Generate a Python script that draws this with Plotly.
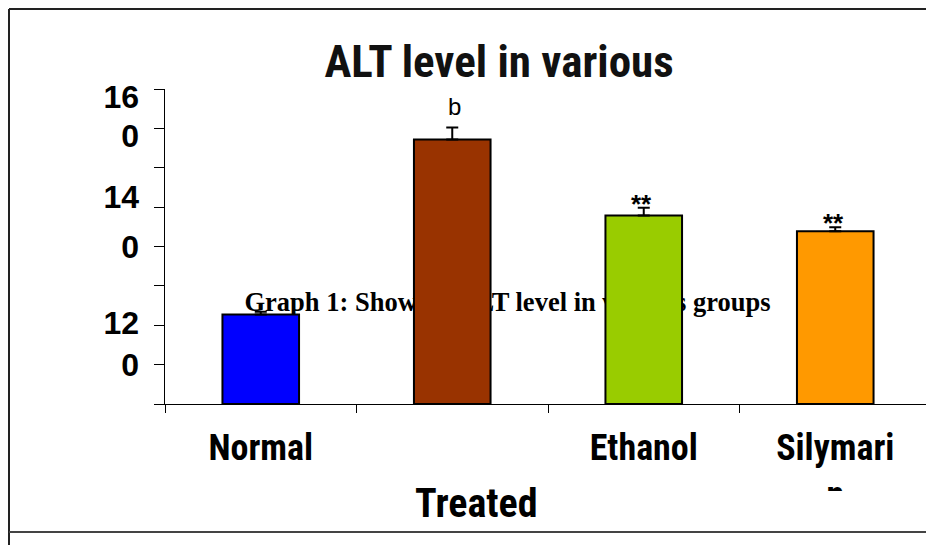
import plotly.graph_objects as go

# ---- data ----
groups = ["Normal", "Ethanol Treated", "Ethanol + Extract", "Silymarin"]
group_ticks = ["Normal", "", "Ethanol", "Silymari<br>n"]
alt_mean = [45.5, 134.4, 95.8, 87.8]
alt_err = [1.3, 6.0, 3.9, 2.0]
bar_colors = ["#0000FF", "#993300", "#99CC00", "#FF9900"]
sig_marks = ["", "b", "**", "**"]
y_ticks = [0, 20, 40, 60, 80, 100, 120, 140, 160]
y_label_vals = [156, 136, 105, 80, 41, 20]
y_label_text = ["16", "0", "14", "0", "12", "0"]
caption = "Graph 1: Showing ALT level in various groups"
title_text = "ALT level in various"
x_title = "Treated"

OFF = 8                      # page margin of the browser
W, H = 926, 537
L, R, T, B = 157, 3, 81, 141
PW, PH = W - L - R, H - T - B
CAT_PX = 191.5               # width of one category in the reference
X_MAX = -0.5 + PW / CAT_PX


def px(xpix):                # screen x -> paper x
    return (xpix - OFF - L) / PW


def py(ypix):                # screen y -> paper y
    return (H - B - (ypix - OFF)) / PH


COND = "Roboto Condensed, Roboto, sans-serif"
SANS = "Liberation Sans, Arial, sans-serif"
SERIF = "Liberation Serif, Times New Roman, serif"

fig = go.Figure()
fig.add_trace(go.Bar(
    x=groups, y=alt_mean, width=0.4,
    marker=dict(color=bar_colors, line=dict(color="black", width=2)),
    error_y=dict(type="data", symmetric=False, array=alt_err,
                 arrayminus=[0] * len(alt_err), color="black",
                 thickness=2, width=6),
    showlegend=False, hoverinfo="skip",
))
# invisible helper trace carrying the secondary (label) axis
fig.add_trace(go.Scatter(x=groups, y=alt_mean, yaxis="y2", mode="markers",
                         marker=dict(opacity=0), showlegend=False,
                         hoverinfo="skip"))

annotations = []
for g, m, e, s in zip(groups, alt_mean, alt_err, sig_marks):
    if not s:
        continue
    if s == "b":
        annotations.append(dict(x=g, y=m + e, xref="x", yref="y", text=s,
                                showarrow=False, yanchor="middle", yshift=21,
                                xshift=2,
                                font=dict(family=SANS, size=24, color="black")))
    else:
        annotations.append(dict(x=g, y=m + e, xref="x", yref="y", text=s,
                                showarrow=False, yanchor="middle", yshift=4,
                                xshift=-2,
                                font=dict(family=SANS, size=26, color="black",
                                          weight="bold")))

annotations.append(dict(x=px(476), y=py(503.5), xref="paper", yref="paper",
                        text=x_title, showarrow=False, xanchor="center",
                        yanchor="middle",
                        font=dict(family=COND, size=40, color="black",
                                  weight="bold")))

shapes = [
    # page frame lines
    dict(type="line", xref="paper", yref="paper", x0=px(9), x1=px(940),
         y0=py(9), y1=py(9), line=dict(color="#222", width=2)),
    dict(type="line", xref="paper", yref="paper", x0=px(9), x1=px(9),
         y0=py(9), y1=py(550), line=dict(color="#222", width=2)),
    dict(type="line", xref="paper", yref="paper", x0=px(9), x1=px(940),
         y0=py(532), y1=py(532), line=dict(color="#444", width=2)),
    # caption lying behind the bars
    dict(type="rect", xref="paper", yref="paper", x0=px(200), x1=px(815),
         y0=py(318), y1=py(280), layer="below", line=dict(width=0),
         fillcolor="rgba(0,0,0,0)",
         label=dict(text=caption, textposition="middle center",
                    font=dict(family=SERIF, size=26.5, color="black",
                              weight="bold"))),
    # cell edge cutting the wrapped label
    dict(type="rect", xref="paper", yref="paper", x0=px(770), x1=px(910),
         y0=py(491), y1=py(528), layer="above", line=dict(width=0),
         fillcolor="white"),
]

fig.update_layout(
    width=W, height=H, autosize=False,
    margin=dict(l=L, r=R, t=T, b=B, pad=0),
    paper_bgcolor="white", plot_bgcolor="white",
    title=dict(text=title_text, x=(499 - OFF) / W, y=1 - (61.5 - OFF) / H,
               xanchor="center", yanchor="middle", xref="container",
               yref="container",
               font=dict(family=COND, size=45, color="#111",
                         weight="bold")),
    xaxis=dict(type="category", range=[-0.5, X_MAX], tickson="boundaries",
               tickmode="array", tickvals=groups, ticktext=group_ticks,
               ticks="outside", ticklen=8, tickwidth=1, tickcolor="black",
               showline=True, linecolor="black", linewidth=1,
               showgrid=False, zeroline=False, ticklabelstandoff=12,
               tickfont=dict(family=COND, size=36, color="black",
                             weight="bold")),
    yaxis=dict(range=[0, 160], tickmode="array", tickvals=y_ticks,
               showticklabels=False, ticks="outside", ticklen=10,
               tickwidth=1, tickcolor="black", showline=True,
               linecolor="black", linewidth=1, showgrid=False,
               zeroline=False),
    yaxis2=dict(range=[0, 160], overlaying="y", side="left",
                tickmode="array", tickvals=y_label_vals,
                ticktext=y_label_text, ticks="", showline=False,
                showgrid=False, zeroline=False, ticklabelstandoff=25,
                tickfont=dict(family=SANS, size=32, color="black",
                              weight="bold")),
    annotations=annotations,
    shapes=shapes,
)

fig.write_html("out.html")
